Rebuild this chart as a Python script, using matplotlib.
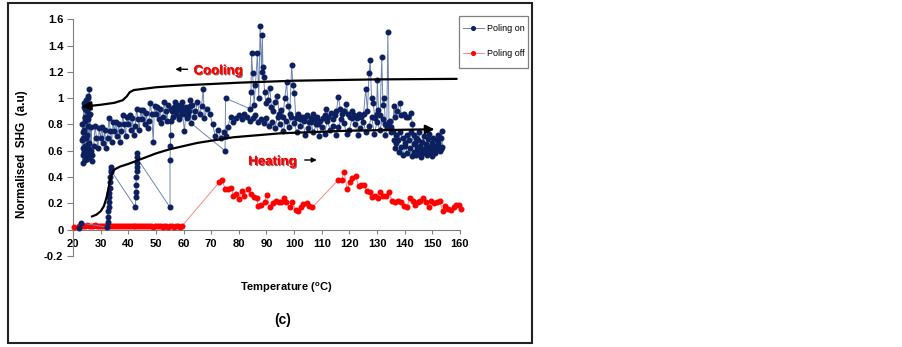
import matplotlib
matplotlib.use("Agg")
import matplotlib.pyplot as plt
import matplotlib.patheffects as pe
from matplotlib.patches import Rectangle

plt.rcParams['font.family'] = ['Liberation Sans', 'DejaVu Sans']
plt.rcParams['mathtext.fontset'] = 'custom'
plt.rcParams['mathtext.rm'] = 'Liberation Sans:bold'
plt.rcParams['mathtext.bf'] = 'Liberation Sans:bold'

# ---- data (temperature degC, normalised SHG) ----
# poling on: heating run
on_heating = [
    (22.2, 0.015), (22.9, 0.05),
    (32.3, 0.02), (32.5, 0.06), (32.6, 0.10), (32.8, 0.14), (32.9, 0.17), (33.0, 0.21),
    (33.1, 0.25), (33.2, 0.28), (33.3, 0.32), (33.4, 0.36), (33.5, 0.40), (33.6, 0.44),
    (33.7, 0.48), (33.6, 0.455),
    (42.6, 0.17), (42.7, 0.25), (42.8, 0.29), (42.8, 0.34), (42.9, 0.40), (43.0, 0.45),
    (43.0, 0.48), (43.1, 0.51), (43.2, 0.58), (43.0, 0.55),
    (55.1, 0.17), (55.1, 0.53), (55.2, 0.64), (55.3, 0.72), (55.3, 0.83),
    (55.8, 0.90), (56.5, 0.93), (57.2, 0.88), (57.8, 0.95), (58.4, 0.86), (59.0, 0.92),
    (59.6, 0.97), (60.2, 0.88), (60.8, 0.93), (61.3, 0.85), (61.8, 0.90), (62.3, 0.94),
    (62.7, 0.81), (75.0, 0.60), (75.2, 1.00), (84.0, 0.92),
    (84.4, 1.05), (84.6, 1.34), (85.0, 1.19), (85.5, 0.95), (86.0, 1.10), (86.7, 1.34),
    (87.2, 1.00), (87.7, 1.55), (88.2, 1.20), (88.5, 1.48), (88.7, 1.24), (89.0, 1.16),
    (89.3, 1.05), (89.8, 0.96), (90.5, 0.99), (91.2, 1.08), (91.8, 0.93), (92.5, 0.90),
    (93.2, 0.97), (93.9, 1.02), (94.6, 0.88), (95.3, 0.91), (96.0, 0.86), (96.6, 1.00),
    (97.3, 1.12), (97.8, 0.94), (98.4, 0.88), (99.1, 1.25), (99.6, 1.10), (100.1, 1.04),
    (100.6, 0.85), (101.3, 0.88), (102.0, 0.84), (102.7, 0.86), (103.4, 0.83), (104.0, 0.86),
    (104.7, 0.87), (105.4, 0.82), (106.0, 0.85), (106.7, 0.88), (107.4, 0.84), (108.1, 0.86),
    (108.8, 0.80), (109.5, 0.83), (110.3, 0.85), (111.0, 0.87), (111.7, 0.92), (112.4, 0.86),
    (113.2, 0.89), (113.9, 0.84), (114.6, 0.87), (115.3, 0.90), (116.0, 1.01), (116.7, 0.92),
    (117.4, 0.88), (118.1, 0.90), (118.8, 0.955), (119.5, 0.88), (120.2, 0.86), (121.0, 0.90),
    (121.8, 0.87), (122.6, 0.85), (123.4, 0.88), (124.3, 0.86), (125.1, 0.88), (125.9, 1.07),
    (126.5, 0.90), (127.1, 1.19), (127.5, 1.29), (128.0, 1.00), (128.6, 0.96), (129.2, 0.85),
    (129.8, 0.88), (130.1, 1.14), (130.5, 0.91), (131.1, 0.87), (131.7, 1.31), (132.1, 0.95),
    (132.5, 1.00), (133.0, 0.80), (133.5, 0.78), (133.9, 1.50), (134.3, 0.82), (134.6, 0.83),
    (135.2, 0.78), (135.6, 0.75), (136.1, 0.94), (136.5, 0.86), (137.2, 0.90), (138.3, 0.96),
    (138.8, 0.87), (139.6, 0.88), (140.5, 0.86), (141.3, 0.86), (142.2, 0.89), (142.8, 0.80),
    (143.2, 0.72), (143.6, 0.66), (144.0, 0.70), (144.4, 0.62), (144.8, 0.68), (145.2, 0.74),
    (145.6, 0.64), (146.0, 0.58), (146.4, 0.67), (146.8, 0.71), (147.2, 0.61), (147.6, 0.65),
    (148.0, 0.57), (148.4, 0.69), (148.8, 0.73), (149.2, 0.63), (149.6, 0.60), (150.0, 0.66),
    (150.4, 0.70), (150.8, 0.58), (151.2, 0.64), (151.6, 0.68), (152.0, 0.72), (152.4, 0.62),
    (152.8, 0.60), (153.2, 0.70), (153.4, 0.75), (153.6, 0.63),
]

# poling on: cooling run
on_cooling = [
    (153.0, 0.61), (152.2, 0.66), (151.4, 0.61), (150.6, 0.63), (149.8, 0.56), (149.0, 0.59),
    (148.2, 0.62), (147.4, 0.58), (146.6, 0.61), (145.8, 0.55), (145.0, 0.60), (144.2, 0.57),
    (143.4, 0.59), (142.6, 0.56), (141.8, 0.62), (141.0, 0.58), (140.2, 0.64), (139.4, 0.57),
    (138.6, 0.63), (137.8, 0.59), (137.0, 0.66), (136.4, 0.62), (136.0, 0.68), (136.8, 0.72),
    (137.6, 0.68), (138.4, 0.74), (139.2, 0.70), (140.0, 0.66), (140.8, 0.72), (141.6, 0.68),
    (142.4, 0.74), (143.2, 0.65),
    (135.0, 0.74), (134.0, 0.80), (133.0, 0.72), (132.0, 0.84), (131.0, 0.76), (130.0, 0.82),
    (129.0, 0.73), (128.0, 0.86), (127.0, 0.79), (126.0, 0.74), (125.0, 0.82), (124.0, 0.77),
    (123.0, 0.72), (122.0, 0.80), (121.0, 0.85), (120.0, 0.76), (119.0, 0.73), (118.0, 0.81),
    (117.0, 0.84), (116.0, 0.78), (115.0, 0.72), (114.0, 0.79), (113.0, 0.76), (112.0, 0.83),
    (111.0, 0.73), (110.0, 0.78), (109.0, 0.71), (108.0, 0.80), (107.0, 0.74), (106.0, 0.82),
    (105.0, 0.77), (104.0, 0.72), (103.0, 0.84), (102.0, 0.79), (101.0, 0.74), (100.0, 0.81),
    (99.0, 0.86), (98.0, 0.78), (97.0, 0.83), (96.0, 0.75), (95.0, 0.80), (94.0, 0.86),
    (93.0, 0.77), (92.0, 0.82), (91.0, 0.79), (90.0, 0.85), (89.0, 0.81), (88.0, 0.84),
    (87.0, 0.82), (86.0, 0.87), (85.0, 0.85), (84.0, 0.83), (83.0, 0.86), (82.0, 0.88),
    (81.0, 0.84), (80.0, 0.87), (79.0, 0.85), (78.0, 0.82), (77.0, 0.86), (76.0, 0.78),
    (75.5, 0.71), (74.5, 0.74), (73.5, 0.70), (72.5, 0.76), (71.5, 0.71), (70.5, 0.80),
    (69.5, 0.88), (68.5, 0.92), (67.5, 0.85), (67.1, 1.07), (66.5, 0.94), (65.8, 0.88),
    (65.0, 0.97), (64.3, 0.90), (63.6, 0.86), (63.0, 0.95), (62.3, 0.99), (61.6, 0.87),
    (61.0, 0.92), (60.3, 0.75), (59.6, 0.89), (58.9, 0.95), (58.2, 0.84), (57.5, 0.91),
    (56.8, 0.97), (56.1, 0.86), (55.5, 0.92),
    (54.5, 0.95), (54.0, 0.83), (53.5, 0.90), (53.0, 0.97), (52.5, 0.86), (52.0, 0.81),
    (51.5, 0.92), (51.0, 0.84), (50.5, 0.93), (50.0, 0.88), (49.5, 0.94), (49.0, 0.67),
    (48.5, 0.88), (48.0, 0.96), (47.5, 0.83), (47.0, 0.77), (46.5, 0.89), (46.0, 0.80),
    (45.5, 0.91), (45.0, 0.84), (44.5, 0.91), (44.0, 0.76), (43.5, 0.84), (43.0, 0.92),
    (42.5, 0.79), (42.0, 0.72), (41.5, 0.85), (41.0, 0.76), (40.5, 0.87), (40.0, 0.80),
    (39.5, 0.86), (39.0, 0.71), (38.5, 0.80), (38.0, 0.87), (37.5, 0.75), (37.0, 0.67),
    (36.5, 0.80), (36.0, 0.71), (35.5, 0.82), (35.0, 0.75), (34.5, 0.82), (34.0, 0.67),
    (33.5, 0.75), (33.0, 0.85), (32.5, 0.70), (32.0, 0.62), (31.5, 0.76), (31.0, 0.66),
    (30.5, 0.78), (30.0, 0.70), (29.5, 0.77), (29.0, 0.62), (28.5, 0.70), (28.0, 0.79),
    (27.5, 0.64), (27.0, 0.57),
    (26.8, 0.52), (26.6, 0.78), (26.4, 0.60), (26.2, 0.88), (26.0, 0.55), (25.8, 0.95),
    (25.6, 0.65), (25.4, 1.02), (25.2, 0.58), (25.0, 0.90), (24.8, 0.70), (24.6, 0.99),
    (24.4, 0.53), (24.2, 0.85), (24.0, 0.62), (23.8, 0.93), (23.6, 0.57), (23.4, 0.80),
    (23.3, 0.68), (23.5, 0.51), (23.7, 0.74), (23.9, 0.96), (24.1, 0.59), (24.3, 0.83),
    (24.5, 0.92), (24.7, 0.63), (24.9, 0.92), (25.1, 0.54), (25.3, 0.79), (25.5, 1.00),
    (25.7, 0.61), (25.9, 1.07), (25.9, 0.87), (25.7, 0.66), (25.5, 0.84), (25.3, 0.56),
    (25.1, 0.91), (24.9, 0.72), (24.7, 0.60), (24.5, 0.86), (24.3, 0.64), (24.1, 0.76),
    (23.9, 0.58), (23.7, 0.70), (23.5, 0.62),
]

# poling off
off_data = [
    (20.5, 0.02), (22.3, 0.03), (23.0, 0.035), (23.7, 0.03), (24.4, 0.03), (25.1, 0.032),
    (25.8, 0.03), (26.5, 0.028), (27.2, 0.03), (27.9, 0.033), (28.6, 0.03), (29.3, 0.029),
    (30.0, 0.031), (30.7, 0.03), (31.4, 0.028), (32.1, 0.03), (32.8, 0.032), (33.5, 0.03),
    (34.2, 0.027), (34.9, 0.03), (35.6, 0.029), (36.3, 0.028), (37.0, 0.03), (37.7, 0.026),
    (38.4, 0.029), (39.1, 0.028), (39.8, 0.03), (40.5, 0.027), (41.2, 0.028), (41.9, 0.026),
    (42.6, 0.029), (43.3, 0.027), (44.0, 0.025), (44.7, 0.028), (45.4, 0.026), (46.1, 0.027),
    (46.8, 0.025), (47.5, 0.027), (48.2, 0.026), (48.9, 0.024), (49.6, 0.026), (50.3, 0.025),
    (51.0, 0.027), (51.7, 0.025), (52.4, 0.024), (53.1, 0.026), (53.8, 0.025), (54.5, 0.024),
    (55.2, 0.026), (55.9, 0.025), (56.6, 0.024), (57.3, 0.025), (58.0, 0.026), (58.7, 0.024),
    (59.4, 0.027),
    (72.9, 0.36), (74.0, 0.38), (75.0, 0.31), (76.2, 0.31), (77.2, 0.32), (78.0, 0.26),
    (78.9, 0.27), (80.0, 0.235), (81.0, 0.295), (82.0, 0.26), (83.2, 0.31), (84.3, 0.27),
    (85.3, 0.25), (86.4, 0.24), (87.1, 0.18), (88.1, 0.19), (89.3, 0.21), (90.1, 0.265),
    (91.1, 0.17), (92.2, 0.20), (93.4, 0.22), (94.4, 0.21), (95.4, 0.21), (96.2, 0.24),
    (97.2, 0.21), (98.4, 0.17), (99.4, 0.21), (100.5, 0.15), (101.3, 0.14), (102.3, 0.175),
    (103.3, 0.195), (104.5, 0.20), (105.4, 0.18), (106.6, 0.17),
    (116.0, 0.38), (117.2, 0.38), (118.0, 0.44), (119.2, 0.31), (120.2, 0.36), (121.1, 0.39),
    (122.2, 0.41), (123.3, 0.33), (124.2, 0.34), (125.2, 0.34), (126.3, 0.295), (127.3, 0.29),
    (128.3, 0.25), (129.3, 0.26), (130.3, 0.24), (131.1, 0.29), (132.1, 0.26), (133.3, 0.26),
    (134.3, 0.29), (135.4, 0.22), (136.6, 0.21), (137.7, 0.22), (138.8, 0.21), (139.8, 0.18),
    (140.8, 0.17), (141.8, 0.24), (142.9, 0.22), (143.8, 0.19), (144.8, 0.21), (145.6, 0.22),
    (146.6, 0.24), (147.7, 0.21), (148.7, 0.17), (149.6, 0.22), (150.6, 0.20), (151.6, 0.21),
    (152.6, 0.22), (153.7, 0.145), (154.6, 0.18), (155.6, 0.155), (156.7, 0.15), (157.7, 0.17),
    (158.6, 0.185), (159.5, 0.185), (160.4, 0.155),
]

# hand-drawn guide curves (temperature, SHG)
cooling_curve = [(25.4, 0.94), (30, 0.95), (35, 0.965), (38, 0.985), (39.5, 1.015), (40.5, 1.045),
                 (42, 1.062), (50, 1.083), (60, 1.098), (80, 1.118), (100, 1.133), (130, 1.143),
                 (158.8, 1.147)]
heating_curve = [(26.8, 0.10), (28.5, 0.115), (30.0, 0.14), (31.2, 0.18), (32.2, 0.25), (33.0, 0.33),
                 (33.7, 0.40), (34.3, 0.44), (35.2, 0.46), (37, 0.48), (40, 0.50), (45, 0.54),
                 (50, 0.58), (55, 0.612), (65, 0.66), (78, 0.703), (95, 0.733), (120, 0.753),
                 (148, 0.763)]

x_ticks = [20, 30, 40, 50, 60, 70, 80, 90, 100, 110, 120, 130, 140, 150, 160]
y_ticks = [-0.2, 0, 0.2, 0.4, 0.6, 0.8, 1.0, 1.2, 1.4, 1.6]
y_tick_labels = ["-0.2", "0", "0.2", "0.4", "0.6", "0.8", "1", "1.2", "1.4", "1.6"]

on_T = [p[0] for p in on_heating + on_cooling]
on_v = [p[1] for p in on_heating + on_cooling]
off_T = [p[0] for p in off_data]
off_v = [p[1] for p in off_data]

W, H = 903, 347
fig = plt.figure(figsize=(W / 100, H / 100), dpi=100)
ax = fig.add_axes([73 / W, 1 - 256 / H, (460 - 73) / W, (256 - 19.3) / H])

ax.plot(on_T, on_v, '-o', color='#7084b4', lw=0.7, ms=3.3, mfc='#0c1f5e', mec='#0c1f5e',
        label='Poling on', zorder=4, clip_on=False)
ax.plot(off_T, off_v, '-o', color='#ff8585', lw=0.7, ms=3.3, mfc='#ff0000', mec='#ff0000',
        label='Poling off', zorder=3, clip_on=False)

# guide curves with arrow heads
cT = [p[0] for p in cooling_curve]
cV = [p[1] for p in cooling_curve]
ax.plot(cT, cV, color='black', lw=1.6, zorder=5, solid_capstyle='round')
ax.annotate('', xy=(22.2, 0.935), xytext=(cT[0], cV[0]),
            arrowprops=dict(arrowstyle='-|>', color='black', lw=1.6, mutation_scale=13), zorder=5)
hT = [p[0] for p in heating_curve]
hV = [p[1] for p in heating_curve]
ax.plot(hT, hV, color='black', lw=1.6, zorder=5, solid_capstyle='round')
ax.annotate('', xy=(151.8, 0.764), xytext=(hT[-1], hV[-1]),
            arrowprops=dict(arrowstyle='-|>', color='black', lw=1.6, mutation_scale=13), zorder=5)

shadow = [pe.withSimplePatchShadow(offset=(0.8, -0.8), shadow_rgbFace='#400000', alpha=0.6), pe.Normal()]
ax.text(72.5, 1.205, 'Cooling', color='#ff0000', fontsize=9.5, fontweight='bold',
        ha='center', va='center', path_effects=shadow, zorder=6)
ax.annotate('', xy=(56.0, 1.22), xytext=(62.4, 1.22),
            arrowprops=dict(arrowstyle='-|>', color='black', lw=1.0, mutation_scale=7))
ax.text(92.2, 0.515, 'Heating', color='#ff0000', fontsize=9.5, fontweight='bold',
        ha='center', va='center', path_effects=shadow, zorder=6)
ax.annotate('', xy=(109.2, 0.53), xytext=(102.8, 0.53),
            arrowprops=dict(arrowstyle='-|>', color='black', lw=1.0, mutation_scale=7))

ax.set_xlim(20, 160)
ax.set_ylim(-0.2, 1.6)
ax.set_xticks(x_ticks)
ax.set_yticks(y_ticks)
ax.set_yticklabels(y_tick_labels)
for s in ['top', 'right']:
    ax.spines[s].set_visible(False)
ax.spines['bottom'].set_position(('data', 0))
for s in ['left', 'bottom']:
    ax.spines[s].set_color('#808080')
    ax.spines[s].set_linewidth(0.8)
ax.tick_params(axis='y', direction='out', length=4, width=0.8, color='#808080', pad=3, labelsize=8)
ax.tick_params(axis='x', direction='out', length=3, width=0.8, color='#808080', pad=4, labelsize=8)
for lab in ax.get_xticklabels() + ax.get_yticklabels():
    lab.set_fontweight('bold')
ax.patch.set_visible(False)

# legend: entries placed without frame, frame drawn as its own box
leg = ax.legend(loc='upper left', bbox_to_anchor=(463 / W, 1 - 24 / H), bbox_transform=fig.transFigure,
                fontsize=6.5, frameon=False, markerscale=0.8,
                handlelength=2.3, labelspacing=1.75, borderpad=0, handletextpad=0.35, borderaxespad=0)
fig.patches.append(Rectangle((459 / W, 1 - 68 / H), (528 - 459) / W, (68 - 16) / H,
                             transform=fig.transFigure, fill=False, edgecolor='#808080', lw=0.9))

fig.text(22 / W, 1 - 154 / H, 'Normalised  SHG  (a.u)', rotation=90, ha='center', va='center',
         fontsize=8.5, fontweight='bold')
fig.text(286 / W, 1 - 288 / H, r'Temperature ($^{\mathbf{o}}$C)', ha='center', va='center',
         fontsize=8, fontweight='bold')
fig.text(283 / W, 1 - 320 / H, '(c)', ha='center', va='center', fontsize=10, fontweight='bold')

fig.patches.append(Rectangle((8 / W, 1 - 343 / H), (532 - 8) / W, (343 - 3) / H,
                             transform=fig.transFigure, fill=False, edgecolor='#222222', lw=1.5))

fig.savefig('out.png', dpi=100)
